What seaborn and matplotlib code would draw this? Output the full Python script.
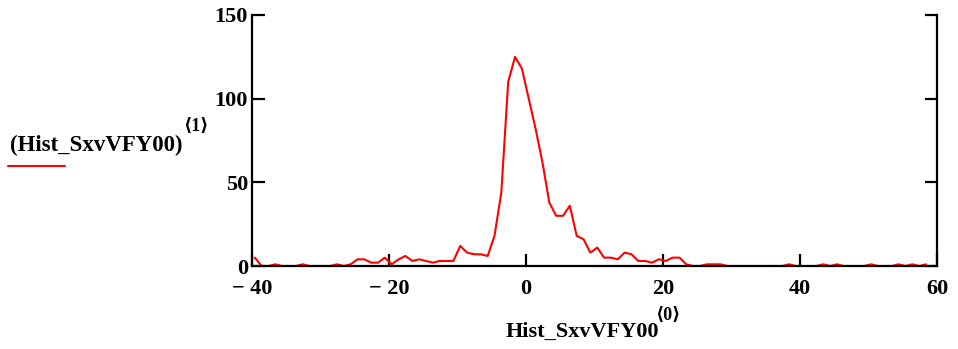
import numpy as np
import pandas as pd
import matplotlib
matplotlib.use("Agg")
import matplotlib.pyplot as plt
import seaborn as sns

# Histogram bins (column 0) and counts (column 1)
bin_start = -39.6
bin_width = 1.0
counts = [5, 0, 0, 1, 0, 0, 0, 1, 0, 0,
          0, 0, 1, 0, 1, 4, 4, 2, 2, 5,
          1, 4, 6, 3, 4, 3, 2, 3, 3, 3,
          12, 8, 7, 7, 6, 18, 44, 110, 125, 118,
          100, 82, 62, 38, 30, 30, 36, 18, 16, 8,
          11, 5, 5, 4, 8, 7, 3, 3, 2, 4,
          3, 5, 5, 1, 0, 0, 1, 1, 1, 0,
          0, 0, 0, 0, 0, 0, 0, 0, 1, 0,
          0, 0, 0, 1, 0, 1, 0, 0, 0, 0,
          1, 0, 0, 0, 1, 0, 1, 0, 1]

x_ticks = [-40, -20, 0, 20, 40, 60]
x_tick_labels = ["\u2212 40", "\u2212 20", "0", "20", "40", "60"]
y_ticks = [0, 50, 100, 150]
y_tick_labels = ["0", "50", "100", "150"]

bins = bin_start + bin_width * np.arange(len(counts))
df = pd.DataFrame({"bin": bins, "count": counts})

sns.set_style("white")
plt.rcParams["font.family"] = ["Liberation Serif", "DejaVu Sans"]
plt.rcParams["font.weight"] = "bold"

fig = plt.figure(figsize=(9.58, 3.49), dpi=100)
ax = fig.add_axes([252 / 958, 1 - 266 / 349, (937 - 252) / 958, (266 - 15) / 349])

sns.lineplot(data=df, x="bin", y="count", ax=ax, color="#ff0000", linewidth=1.5)

ax.set_xlim(-40, 60)
ax.set_ylim(0, 150)
ax.set_xticks(x_ticks)
ax.set_xticklabels(x_tick_labels, fontsize=16, fontweight="bold")
ax.set_yticks(y_ticks)
ax.set_yticklabels(y_tick_labels, fontsize=16, fontweight="bold")
ax.set_xlabel("")
ax.set_ylabel("")

for s in ["left", "right", "bottom"]:
    ax.spines[s].set_visible(True)
    ax.spines[s].set_color("black")
    ax.spines[s].set_linewidth(1.6)
ax.spines["top"].set_visible(False)

ax.tick_params(axis="both", direction="in", length=9, width=1.6, colors="black",
               labelcolor="black", pad=3)
ax.tick_params(axis="y", right=True, left=True)
ax.tick_params(axis="x", bottom=True, top=False, pad=9)

# y-axis "legend" label with red sample line
fig.text(10 / 958, 1 - 145 / 349, "(Hist_SxvVFY00)", fontsize=16.5, fontweight="bold",
         ha="left", va="center", color="black")
fig.text(183 / 958, 1 - 126 / 349, "\u27e81\u27e9", fontsize=13, fontweight="bold",
         ha="left", va="center", color="black")
fig.add_artist(plt.Line2D([8 / 958, 65 / 958], [1 - 166 / 349, 1 - 166 / 349],
                          color="#ff0000", linewidth=1.5, transform=fig.transFigure))

# x-axis label
fig.text(582 / 958, 1 - 332 / 349, "Hist_SxvVFY00", fontsize=16, fontweight="bold",
         ha="center", va="center", color="black")
fig.text(655 / 958, 1 - 315 / 349, "\u27e80\u27e9", fontsize=13, fontweight="bold",
         ha="left", va="center", color="black")

fig.savefig("out.png", dpi=100)
